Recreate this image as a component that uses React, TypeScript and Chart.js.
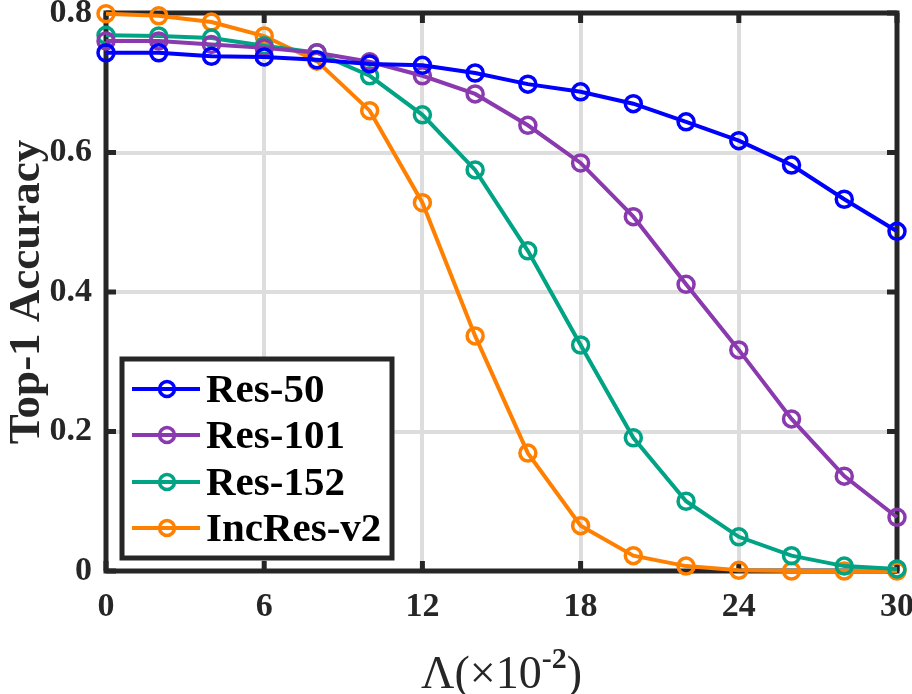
import React, { useEffect, useRef } from "react";
import { Chart, registerables } from "chart.js";

Chart.register(...registerables);

const lambdas = [0, 2, 4, 6, 8, 10, 12, 14, 16, 18, 20, 22, 24, 26, 28, 30];
const res50 = [0.743, 0.743, 0.738, 0.737, 0.733, 0.727, 0.725, 0.714, 0.698, 0.687, 0.67, 0.644, 0.617, 0.582, 0.533, 0.487];
const res101 = [0.76, 0.76, 0.755, 0.75, 0.743, 0.73, 0.71, 0.684, 0.639, 0.585, 0.508, 0.411, 0.317, 0.218, 0.136, 0.077];
const res152 = [0.768, 0.767, 0.764, 0.753, 0.743, 0.71, 0.654, 0.575, 0.459, 0.324, 0.191, 0.1, 0.049, 0.022, 0.007, 0.003];
const incres = [0.799, 0.796, 0.787, 0.767, 0.731, 0.66, 0.528, 0.337, 0.169, 0.065, 0.022, 0.007, 0.001, 0.0, 0.0, 0.0];

const seriesNames = ["Res-50", "Res-101", "Res-152", "IncRes-v2"];
const seriesColors = ["#0000ff", "#8a3aae", "#00a383", "#ff8000"];
const seriesValues = [res50, res101, res152, incres];

const xTitleMain = "Λ(×10";
const xTitleSup = "-2";
const xTitleEnd = ")";
const yTitle = "Top-1 Accuracy";

const FONT = "'Liberation Serif', 'Times New Roman', serif";
const DARK = "#262626";

const framePlugin = {
  id: "frame",
  beforeDatasetsDraw(chart: any) {
    const { ctx, chartArea: a, scales } = chart;
    ctx.save();
    ctx.strokeStyle = DARK;
    ctx.lineWidth = 5;
    ctx.strokeRect(a.left, a.top, a.right - a.left, a.bottom - a.top);
    const tl = 10;
    scales.x.ticks.forEach((t: any) => {
      const px = scales.x.getPixelForValue(t.value);
      ctx.beginPath();
      ctx.moveTo(px, a.bottom);
      ctx.lineTo(px, a.bottom - tl);
      ctx.moveTo(px, a.top);
      ctx.lineTo(px, a.top + tl);
      ctx.stroke();
    });
    scales.y.ticks.forEach((t: any) => {
      const py = scales.y.getPixelForValue(t.value);
      ctx.beginPath();
      ctx.moveTo(a.left, py);
      ctx.lineTo(a.left + tl, py);
      ctx.moveTo(a.right, py);
      ctx.lineTo(a.right - tl, py);
      ctx.stroke();
    });
    ctx.restore();
  },
  afterDraw(chart: any) {
    const { ctx, chartArea: a } = chart;
    ctx.save();
    // x-axis title with superscript
    const cx = (a.left + a.right) / 2;
    const base = 688;
    ctx.fillStyle = DARK;
    ctx.textBaseline = "alphabetic";
    ctx.textAlign = "left";
    const mainFont = `46px ${FONT}`;
    const supFont = `bold 30px ${FONT}`;
    ctx.font = mainFont;
    const wMain = ctx.measureText(xTitleMain).width;
    const wClose = ctx.measureText(xTitleEnd).width;
    ctx.font = supFont;
    const wSup = ctx.measureText(xTitleSup).width;
    const total = wMain + wSup + wClose;
    let x = cx - total / 2;
    ctx.font = mainFont;
    ctx.fillText(xTitleMain, x, base);
    x += wMain;
    ctx.font = supFont;
    ctx.fillText(xTitleSup, x, base - 20);
    x += wSup;
    ctx.font = mainFont;
    ctx.fillText(xTitleEnd, x, base);

    // legend
    const lx = 122, ly = 359, lw = 270, lh = 199;
    ctx.fillStyle = "#ffffff";
    ctx.fillRect(lx, ly, lw, lh);
    ctx.strokeStyle = DARK;
    ctx.lineWidth = 5;
    ctx.strokeRect(lx, ly, lw, lh);
    const rows = [389, 435, 482, 528];
    seriesNames.forEach((name, i) => {
      const y = rows[i];
      ctx.strokeStyle = seriesColors[i];
      ctx.lineWidth = 4;
      ctx.beginPath();
      ctx.moveTo(132, y);
      ctx.lineTo(200, y);
      ctx.stroke();
      ctx.lineWidth = 3.5;
      ctx.beginPath();
      ctx.arc(167, y, 7.5, 0, Math.PI * 2);
      ctx.stroke();
      ctx.fillStyle = "#000000";
      ctx.font = `bold 41px ${FONT}`;
      ctx.textAlign = "left";
      ctx.textBaseline = "middle";
      ctx.fillText(name, 206, y + 2);
    });
    ctx.restore();
  },
};

export default function App() {
  const ref = useRef<HTMLCanvasElement | null>(null);
  useEffect(() => {
    document.body.style.margin = "0";
    if (!ref.current) return;
    const chart = new Chart(ref.current, {
      type: "line",
      data: {
        datasets: seriesNames.map((name, i) => ({
          label: name,
          data: lambdas.map((l, j) => ({ x: l, y: seriesValues[i][j] })),
          borderColor: seriesColors[i],
          backgroundColor: "rgba(0,0,0,0)",
          borderWidth: 4,
          pointRadius: 8,
          pointBorderWidth: 3.5,
          pointBackgroundColor: "rgba(0,0,0,0)",
          pointBorderColor: seriesColors[i],
          tension: 0,
          clip: false as any,
        })),
      },
      options: {
        animation: false,
        responsive: false,
        layout: { padding: { top: 13, right: 15, left: 0, bottom: 0 } },
        plugins: { legend: { display: false }, tooltip: { enabled: false } },
        scales: {
          x: {
            type: "linear",
            min: 0,
            max: 30,
            ticks: {
              stepSize: 6,
              color: DARK,
              font: { family: FONT, size: 34, weight: "bold" },
              padding: 16,
              maxRotation: 0,
            },
            grid: { color: "#dddddd", lineWidth: 4, drawTicks: false },
            border: { display: false },
            afterFit: (s: any) => {
              s.height = 123;
              s.paddingLeft = 0;
              s.paddingRight = 0;
              s.paddingTop = 0;
              s.paddingBottom = 0;
            },
          },
          y: {
            type: "linear",
            min: 0,
            max: 0.8,
            ticks: {
              stepSize: 0.2,
              color: DARK,
              font: { family: FONT, size: 34, weight: "bold" },
              padding: 14,
              callback: (v: any) => (v === 0 ? "0" : Number(v).toFixed(1)),
            },
            grid: { color: "#dddddd", lineWidth: 4, drawTicks: false },
            border: { display: false },
            title: {
              display: true,
              text: yTitle,
              color: DARK,
              font: { family: FONT, size: 45, weight: "bold" },
              padding: { top: 0, bottom: 0 },
            },
            afterFit: (s: any) => {
              s.width = 106;
              s.paddingLeft = 0;
              s.paddingRight = 0;
              s.paddingTop = 0;
              s.paddingBottom = 0;
            },
          },
        },
      },
      plugins: [framePlugin],
    });
    return () => chart.destroy();
  }, []);
  return (
    <div style={{ position: "absolute", left: 0, top: 0, width: 912, height: 694 }}>
      <canvas ref={ref} width={912} height={694} style={{ width: 912, height: 694 }} />
    </div>
  );
}
